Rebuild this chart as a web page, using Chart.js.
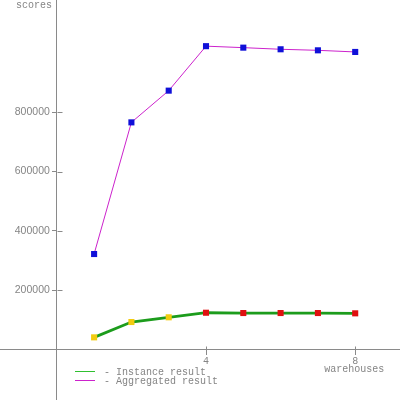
<!DOCTYPE html>
<html>
<head>
<meta charset="utf-8">
<script src="https://cdn.jsdelivr.net/npm/chart.js@4/dist/chart.umd.min.js"></script>
<style>
html,body{margin:0;padding:0;background:#fff;}
#wrap{width:400px;height:400px;}
</style>
</head>
<body>
<div id="wrap"><canvas id="c" width="400" height="400"></canvas></div>
<script>
// ---- data ----
const warehouses = [1, 2, 3, 4, 5, 6, 7, 8];
const instanceScores = [41000, 92700, 108600, 124000, 123000, 123000, 123000, 122000];
const aggregatedScores = [322000, 766000, 873000, 1023000, 1018000, 1012500, 1009000, 1003500];
const xTickValues = [4, 8];
const yTickValues = [200000, 400000, 600000, 800000];
const seriesNames = ['- Instance result', '- Aggregated result'];
const xTitle = 'warehouses';
const yTitle = 'scores';

// ---- styles ----
const axisColor = '#8a8a8a';
const textColor = '#858585';
const monoFont = '"Liberation Mono", "DejaVu Sans Mono", monospace';
const instancePointColors = warehouses.map(w => w <= 3 ? '#f2cc10' : '#e01010');
const yLabelGap = 7;

const toPts = ys => warehouses.map((x, i) => ({x: x, y: ys[i]}));

const extras = {
  id: 'extras',
  beforeDraw(chart) {
    // move the y tick labels left of the tick marks (object-positioned axes ignore ticks.padding)
    const items = chart.scales.y.getLabelItems();
    items.forEach(it => {
      if (!it._shifted) { it.options.translation[0] -= yLabelGap; it._shifted = true; }
    });
  },
  afterDraw(chart) {
    const ctx = chart.ctx;
    const xs = chart.scales.x, ys = chart.scales.y;
    const ax = Math.round(xs.getPixelForValue(0)) + 0.5;
    const ay = Math.round(ys.getPixelForValue(0)) + 0.5;
    ctx.save();
    ctx.strokeStyle = axisColor;
    ctx.lineWidth = 1;
    ctx.beginPath();
    yTickValues.forEach(v => {
      const py = Math.round(ys.getPixelForValue(v)) + 0.5;
      ctx.moveTo(ax, py); ctx.lineTo(ax + 5, py);
    });
    xTickValues.forEach(v => {
      const px = Math.round(xs.getPixelForValue(v)) + 0.5;
      ctx.moveTo(px, ay - 4); ctx.lineTo(px, ay);
    });
    ctx.stroke();
    // titles
    ctx.fillStyle = textColor;
    ctx.font = '10px ' + monoFont;
    ctx.textAlign = 'right';
    ctx.textBaseline = 'alphabetic';
    ctx.fillText(yTitle, 52, 8);
    ctx.textAlign = 'center';
    ctx.textBaseline = 'middle';
    ctx.fillText(xTitle, xs.getPixelForValue(8) - 1, 369);
    // legend
    const legendColors = ['#30c030', '#cc22cc'];
    const legendY = [371, 380];
    seriesNames.forEach((n, i) => {
      ctx.strokeStyle = legendColors[i];
      ctx.beginPath();
      ctx.moveTo(75, legendY[i] + 0.5); ctx.lineTo(95, legendY[i] + 0.5);
      ctx.stroke();
      ctx.fillStyle = textColor;
      ctx.textAlign = 'left';
      ctx.textBaseline = 'middle';
      ctx.fillText(n, 104, legendY[i] + 1);
    });
    ctx.restore();
  }
};

const zeroPad = s => { s.paddingTop = 0; s.paddingBottom = 0; s.paddingLeft = 0; s.paddingRight = 0; };

new Chart(document.getElementById('c'), {
  type: 'scatter',
  data: {
    datasets: [
      {
        label: seriesNames[0],
        data: toPts(instanceScores),
        showLine: true,
        borderColor: '#1c9c1c',
        borderWidth: 2.8,
        pointStyle: 'rect',
        pointRadius: 4.3,
        pointBorderWidth: 0,
        pointBackgroundColor: instancePointColors,
        order: 2
      },
      {
        label: seriesNames[1],
        data: toPts(aggregatedScores),
        showLine: true,
        borderColor: '#cc22cc',
        borderWidth: 1,
        pointStyle: 'rect',
        pointRadius: 4.3,
        pointBorderWidth: 0,
        pointBackgroundColor: '#1010d8',
        order: 1
      }
    ]
  },
  options: {
    responsive: false,
    animation: false,
    layout: { padding: 0, autoPadding: false },
    plugins: { legend: { display: false }, tooltip: { enabled: false } },
    scales: {
      x: {
        type: 'linear',
        min: -1.523,
        max: 9.201,
        position: { y: 0 },
        afterBuildTicks: s => { s.ticks = xTickValues.map(v => ({value: v})); },
        afterFit: zeroPad,
        grid: { drawOnChartArea: false, drawTicks: true, tickLength: 5, color: axisColor },
        border: { color: axisColor, width: 1 },
        ticks: {
          padding: 1,
          color: textColor,
          font: { family: monoFont, size: 10 },
          callback: v => String(v),
          maxRotation: 0,
          autoSkip: false
        }
      },
      y: {
        type: 'linear',
        min: -170300,
        max: 1178700,
        position: { x: 0 },
        afterBuildTicks: s => { s.ticks = yTickValues.map(v => ({value: v})); },
        afterFit: zeroPad,
        grid: { drawOnChartArea: false, drawTicks: true, tickLength: 4, color: axisColor },
        border: { color: axisColor, width: 1 },
        ticks: {
          padding: 3,
          color: textColor,
          font: { family: '"Liberation Sans", Arial, sans-serif', size: 10.5 },
          callback: v => String(v),
          autoSkip: false
        }
      }
    }
  },
  plugins: [extras]
});
</script>
</body>
</html>
